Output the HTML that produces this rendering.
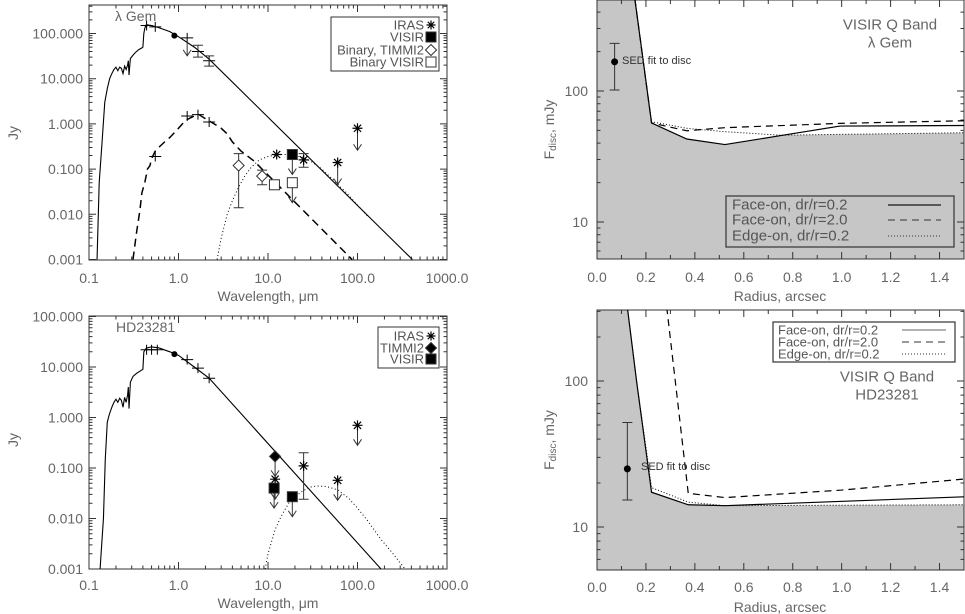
<!DOCTYPE html>
<html><head><meta charset="utf-8">
<style>
html,body{margin:0;padding:0;background:#fff;}
svg{display:block;font-family:"Liberation Sans",sans-serif;}
.t{fill:#666;font-size:14px;}
.ts{fill:#555;font-size:13px;}
</style></head>
<body>
<svg id="fig" width="965" height="614" viewBox="0 0 965 614" xmlns="http://www.w3.org/2000/svg">
<defs>
<clipPath id="cTL"><rect x="89" y="5" width="358" height="255"/></clipPath>
<clipPath id="cBL"><rect x="89" y="316" width="358" height="253"/></clipPath>
<clipPath id="cTR"><rect x="597" y="0" width="367" height="259"/></clipPath>
<clipPath id="cBR"><rect x="597" y="310" width="367" height="260"/></clipPath>
</defs>
</svg>
<script>
// ---------- data: lambda Gem SED ----------
const gemStarWl=[0.123,0.13,0.14,0.15,0.16,0.17,0.18,0.19,0.2,0.21,0.22,0.23,0.24,0.25,0.26,0.27,0.275,0.28,0.29,0.31,0.33,0.36,0.39,0.4,0.41,0.42,0.43,0.44,0.45,0.5,0.6,0.8,1.0,1.5,2.2,410];
const gemStarF=[0.001,0.05,0.4,3,6,10,13,16,18,15,18,17,13,19,16,20,25,12,28,33,38,44,48,50,100,130,150,140,155,150,135,110,85,50,27,0.001];
const gemBinWl=[0.31,0.34,0.37,0.39,0.42,0.45,0.48,0.5,0.55,0.6,0.7,0.8,1.0,1.2,1.5,1.7,2.0,2.5,3.0,3.5,4.0,5.0,7.0,87];
const gemBinF=[0.001,0.004,0.012,0.03,0.05,0.1,0.12,0.17,0.25,0.3,0.4,0.5,0.8,1.2,1.5,1.6,1.3,1.0,0.8,0.6,0.4,0.25,0.15,0.001];
const gemDiskWl=[2.7,3.0,3.5,4.0,4.7,5.5,6.5,8,10,13,16,20,25,30,40,55,75,100,130];
const gemDiskF=[0.001,0.003,0.01,0.02,0.04,0.07,0.11,0.16,0.19,0.21,0.21,0.2,0.18,0.15,0.1,0.055,0.03,0.016,0.009];
const gemIrasWl=[12.5,25,60,100];
const gemIrasF=[0.21,0.16,0.14,0.8];
const gemIrasLo=[0,0.11,0,0];
const gemIrasHi=[0,0.22,0,0];
const gemIrasUL=[0,0,1,1];
const gemVisirWl=[18.7];
const gemVisirF=[0.21];
const gemBinTimWl=[4.7,8.6];
const gemBinTimF=[0.12,0.07];
const gemBinTimLo=[0.014,0.045];
const gemBinTimHi=[0.22,0.095];
const gemBinVisWl=[11.8,18.7];
const gemBinVisF=[0.045,0.05];
const gemBinVisLo=[0.038,0];
const gemBinVisHi=[0.052,0];
const gemBinVisUL=[0,1];
const gemPhotWl=[0.44,0.55,1.25,1.65,2.2];
const gemPhotF=[150,140,80,40,25];
const gemPhotLo=[0,0,0,30,19];
const gemPhotHi=[0,0,0,55,32];
const gemPhotUL=[0,0,1,0,0];
const gemBinPhotWl=[0.55,1.25,1.65,2.2];
const gemBinPhotF=[0.19,1.5,1.6,1.1];
// ---------- data: HD23281 SED ----------
const hdStarWl=[0.133,0.145,0.152,0.16,0.165,0.17,0.18,0.19,0.2,0.21,0.22,0.23,0.24,0.25,0.26,0.27,0.275,0.28,0.29,0.31,0.34,0.38,0.4,0.41,0.43,0.45,0.5,0.6,0.8,1.0,1.5,2.2,183];
const hdStarF=[0.001,0.01,0.15,0.8,1.0,1.2,1.6,2.0,2.3,2.0,2.4,2.2,1.6,2.5,2.0,2.8,4.0,1.5,5,6.5,7.5,8.5,9,20,23,24,25,24,20,17,10,6,0.001];
const hdDiskWl=[9.3,10,12,14,17,20,25,30,35,45,60,80,100,130,180,250,340];
const hdDiskF=[0.001,0.002,0.006,0.011,0.02,0.027,0.036,0.042,0.044,0.043,0.037,0.025,0.016,0.009,0.004,0.002,0.001];
const hdIrasWl=[12,25,60,100];
const hdIrasF=[0.06,0.11,0.057,0.7];
const hdIrasLo=[0,0.024,0,0];
const hdIrasHi=[0,0.2,0,0];
const hdIrasUL=[1,0,1,1];
const hdTimWl=[12];
const hdTimF=[0.17];
const hdVisirWl=[11.7,18.7];
const hdVisirF=[0.04,0.027];
const hdPhotWl=[0.44,0.5,0.58,1.25,1.65,2.2];
const hdPhotF=[22,22,22,14,9.5,6];
// ---------- data: radial profiles ----------
const gemSolidR=[0.155,0.223,0.367,0.523,0.748,0.993,1.5];
const gemSolidF=[500,57,43,39,45.6,54,54.5];
const gemDashR=[0.155,0.223,0.367,0.523,0.993,1.5];
const gemDashF=[500,57,49.7,52.5,56.6,59.3];
const gemDotR=[0.155,0.223,0.367,0.523,0.748,1.5];
const gemDotF=[500,58.3,51.9,48.9,46,48];
const gemSedR=[0.072], gemSedF=[167], gemSedLo=[101.8], gemSedHi=[231];
const hdSolidR=[0.124,0.162,0.223,0.373,0.523,1.5];
const hdSolidF=[320,99,17.3,14.2,14.0,16.1];
const hdDashR=[0.285,0.373,0.523,1.0,1.5];
const hdDashF=[320,17.0,15.9,17.9,21.3];
const hdDotR=[0.124,0.162,0.223,0.373,0.523,1.5];
const hdDotF=[320,99,18.6,14.8,14.0,14.2];
const hdSedR=[0.124], hdSedF=[25], hdSedLo=[15.3], hdSedHi=[52];
// ---------- tick labels ----------
const sedXTicks=[0.1,1,10,100,1000];
const sedXLabels=["0.1","1.0","10.0","100.0","1000.0"];
const sedYTicks=[0.001,0.01,0.1,1,10,100];
const sedYLabels=["0.001","0.010","0.100","1.000","10.000","100.000"];
const radXTicks=[0,0.2,0.4,0.6,0.8,1.0,1.2,1.4];
const radXLabels=["0.0","0.2","0.4","0.6","0.8","1.0","1.2","1.4"];
const radYTicks=[10,100];
const radYLabels=["10","100"];

const NS='http://www.w3.org/2000/svg';
const svg=document.getElementById('fig');
function mk(tag,attrs,name,parent){
  const el=document.createElementNS(NS,tag);
  for(const k in attrs) el.setAttribute(k,attrs[k]);
  
  
  (parent||svg).appendChild(el);
  return el;
}
function logS(d0,p0,d1,p1){const a=Math.log10(d0),b=Math.log10(d1);return v=>p0+(Math.log10(v)-a)/(b-a)*(p1-p0);}
function linS(d0,p0,d1,p1){return v=>p0+(v-d0)/(d1-d0)*(p1-p0);}
function txt(x,y,s,cls,anchor,name,parent){const t=mk('text',{x:x,y:y,'class':cls,'text-anchor':anchor||'middle','dominant-baseline':'central'},name,parent);t.textContent=s;return t;}

function panel(P){
  const g=mk('g',{},P.name);
  mk('rect',{x:P.x0,y:P.y0,width:P.x1-P.x0,height:P.y1-P.y0,fill:'none',stroke:'#333','stroke-width':1},P.name+'-frame',g);
  // x ticks
  let d='';
  if(P.xlog){
    for(let e=-1;e<3;e++)for(let m=1;m<10;m++){const v=m*Math.pow(10,e);const x=P.xs(v);const L=m==1?7:3.5;d+=`M${x},${P.y1}v${-L}M${x},${P.y0}v${L}`;}
    d+=`M${P.x1},${P.y1}v-7M${P.x1},${P.y0}v7`;
  }else{
    for(let i=0;i<=15;i++){const x=P.xs(i/10);const L=i%2==0?7:4;d+=`M${x},${P.y1}v${-L}M${x},${P.y0}v${L}`;}
  }
  for(let e=P.ye0;e<=P.ye1;e++)for(let m=1;m<10;m++){const v=m*Math.pow(10,e);const y=P.ys(v);if(y<P.y0-0.5||y>P.y1+0.5)continue;const L=m==1?7:3.5;d+=`M${P.x0},${y}h${L}M${P.x1},${y}h${-L}`;}
  mk('path',{d:d,stroke:'#333','stroke-width':1,fill:'none'},P.name+'-ticks',g);
  P.xt.forEach((v,i)=>txt(P.xs(v),P.xly,P.xl[i],'t','middle','x-tick-label',g));
  P.yt.forEach((v,i)=>txt(P.ylx,P.ys(v),P.yl[i],'t','end','y-tick-label',g));
  return g;
}
function line(P,xs,ys,style,name,g){
  const pts=xs.map((x,i)=>P.xs(x).toFixed(2)+','+P.ys(ys[i]).toFixed(2)).join(' ');
  const a={points:pts,fill:'none',stroke:'#000','stroke-width':style.w||1,'clip-path':'url(#'+P.clip+')'};
  if(style.dash)a['stroke-dasharray']=style.dash;
  return mk('polyline',a,name,g);
}
function errbar(P,x,lo,hi,g,cap){
  const X=P.xs(x),a=P.ys(lo),b=P.ys(hi);cap=cap||5;
  mk('path',{d:`M${X},${a}V${b}M${X-cap},${a}h${2*cap}M${X-cap},${b}h${2*cap}`,stroke:'#333',fill:'none'},'error-bar',g);
}
function arrow(P,x,f,g,len){
  const X=P.xs(x),Y=P.ys(f),L=len||22;
  mk('path',{d:`M${X},${Y}v${L}M${X-4},${Y+L-6}L${X},${Y+L}L${X+4},${Y+L-6}`,stroke:'#333',fill:'none'},'upper-limit-arrow',g);
}
function aster(X,Y,g,s){s=s||5;const c=s*0.72;
  mk('path',{d:`M${X-s},${Y}h${2*s}M${X},${Y-s}v${2*s}M${X-c},${Y-c}l${2*c},${2*c}M${X-c},${Y+c}l${2*c},${-2*c}`,stroke:'#000',fill:'none','stroke-width':1.2},'iras-point',g);}
function sq(X,Y,g,filled){mk('rect',{x:X-5,y:Y-5,width:10,height:10,fill:filled?'#000':'#fff',stroke:'#333'},filled?'visir-point':'binary-visir-point',g);}
function dia(X,Y,g,filled){mk('path',{d:`M${X},${Y-5.5}L${X+5.5},${Y}L${X},${Y+5.5}L${X-5.5},${Y}Z`,fill:filled?'#000':'#fff',stroke:'#333'},filled?'timmi2-point':'binary-timmi2-point',g);}
function cross(P,x,f,g){const X=P.xs(x),Y=P.ys(f);mk('path',{d:`M${X-6},${Y}h12M${X},${Y-5}v10`,stroke:'#000',fill:'none'},'photometry-point',g);}

// ===== Top-left: lambda Gem SED =====
const TL={name:'sed-lambda-gem',x0:89,x1:447,y0:5,y1:260,xlog:true,xs:logS(0.1,89,1000,447),ys:logS(0.001,259.5,100,33.5),ye0:-3,ye1:2,xt:sedXTicks,xl:sedXLabels,yt:sedYTicks,yl:sedYLabels,xly:278,ylx:83,clip:'cTL'};
const gTL=panel(TL);
line(TL,gemStarWl,gemStarF,{w:1.1},'primary-photosphere-line',gTL);
line(TL,gemBinWl,gemBinF,{w:1.5,dash:'8,5'},'binary-photosphere-line',gTL);
line(TL,gemDiskWl,gemDiskF,{w:1,dash:'1,2.5'},'disc-model-line',gTL);
gemPhotWl.forEach((w,i)=>{cross(TL,w,gemPhotF[i],gTL);if(gemPhotLo[i])errbar(TL,w,gemPhotLo[i],gemPhotHi[i],gTL);if(gemPhotUL[i])arrow(TL,w,gemPhotF[i],gTL,18);});
mk('circle',{cx:TL.xs(0.9),cy:TL.ys(90),r:3,fill:'#000'},'photometry-dot',gTL);
gemBinPhotWl.forEach((w,i)=>cross(TL,w,gemBinPhotF[i],gTL));
gemBinTimWl.forEach((w,i)=>{errbar(TL,w,gemBinTimLo[i],gemBinTimHi[i],gTL);dia(TL.xs(w),TL.ys(gemBinTimF[i]),gTL,false);});
gemBinVisWl.forEach((w,i)=>{if(gemBinVisLo[i])errbar(TL,w,gemBinVisLo[i],gemBinVisHi[i],gTL);if(gemBinVisUL[i])arrow(TL,w,gemBinVisF[i],gTL,20);sq(TL.xs(w),TL.ys(gemBinVisF[i]),gTL,false);});
gemIrasWl.forEach((w,i)=>{if(gemIrasLo[i])errbar(TL,w,gemIrasLo[i],gemIrasHi[i],gTL);if(gemIrasUL[i])arrow(TL,w,gemIrasF[i],gTL,22);aster(TL.xs(w),TL.ys(gemIrasF[i]),gTL);});
gemVisirWl.forEach((w,i)=>{arrow(TL,w,gemVisirF[i],gTL,20);sq(TL.xs(w),TL.ys(gemVisirF[i]),gTL,true);});
txt(115,16,'λ Gem','t','start','panel-title',gTL);
const lgTL=mk('g',{},'legend',gTL);
mk('rect',{x:331,y:17,width:108,height:54,fill:'#fff',stroke:'#333'},'legend-box',lgTL);
txt(424,25,'IRAS','ts','end','legend-entry-iras',lgTL);aster(431,25,lgTL,4.5);
txt(424,37,'VISIR','ts','end','legend-entry-visir',lgTL);sq(431,37,lgTL,true);
txt(424,50,'Binary, TIMMI2','ts','end','legend-entry-binary-timmi2',lgTL);dia(431,50,lgTL,false);
txt(424,62,'Binary VISIR','ts','end','legend-entry-binary-visir',lgTL);sq(431,62,lgTL,false);
txt(268,296,'Wavelength, μm','t','middle','x-axis-title',gTL);
mk('text',{x:13,y:133,'class':'t','text-anchor':'middle','dominant-baseline':'central',transform:'rotate(-90 13 133)'},'y-axis-title',gTL).textContent='Jy';

// ===== Bottom-left: HD23281 SED =====
const BL={name:'sed-hd23281',x0:89,x1:447,y0:316,y1:569,xlog:true,xs:logS(0.1,89,1000,447),ys:logS(0.001,569,100,316.5),ye0:-3,ye1:2,xt:sedXTicks,xl:sedXLabels,yt:sedYTicks,yl:sedYLabels,xly:585,ylx:83,clip:'cBL'};
const gBL=panel(BL);
line(BL,hdStarWl,hdStarF,{w:1.1},'photosphere-line',gBL);
line(BL,hdDiskWl,hdDiskF,{w:1,dash:'1,2.5'},'disc-model-line',gBL);
hdPhotWl.forEach((w,i)=>cross(BL,w,hdPhotF[i],gBL));
mk('circle',{cx:BL.xs(0.9),cy:BL.ys(18),r:3,fill:'#000'},'photometry-dot',gBL);
hdIrasWl.forEach((w,i)=>{if(hdIrasLo[i])errbar(BL,w,hdIrasLo[i],hdIrasHi[i],gBL);if(hdIrasUL[i])arrow(BL,w,hdIrasF[i],gBL,20);aster(BL.xs(w),BL.ys(hdIrasF[i]),gBL);});
hdTimWl.forEach((w,i)=>{arrow(BL,w,hdTimF[i],gBL,20);dia(BL.xs(w),BL.ys(hdTimF[i]),gBL,true);});
hdVisirWl.forEach((w,i)=>{arrow(BL,w,hdVisirF[i],gBL,20);sq(BL.xs(w),BL.ys(hdVisirF[i]),gBL,true);});
txt(116,327,'HD23281','t','start','panel-title',gBL);
const lgBL=mk('g',{},'legend',gBL);
mk('rect',{x:378,y:327,width:61,height:41,fill:'#fff',stroke:'#333'},'legend-box',lgBL);
txt(424,336,'IRAS','ts','end','legend-entry-iras',lgBL);aster(431,336,lgBL,4.5);
txt(424,348,'TIMMI2','ts','end','legend-entry-timmi2',lgBL);dia(431,348,lgBL,true);
txt(424,359,'VISIR','ts','end','legend-entry-visir',lgBL);sq(431,359,lgBL,true);
txt(268,603,'Wavelength, μm','t','middle','x-axis-title',gBL);
mk('text',{x:13,y:440,'class':'t','text-anchor':'middle','dominant-baseline':'central',transform:'rotate(-90 13 440)'},'y-axis-title',gBL).textContent='Jy';

// ===== radial profile panels =====
function interpLog(R,F,r){if(r<R[0]||r>R[R.length-1])return Infinity;for(let i=1;i<R.length;i++){if(r<=R[i]){const t=(r-R[i-1])/(R[i]-R[i-1]);return Math.pow(10,Math.log10(F[i-1])+t*(Math.log10(F[i])-Math.log10(F[i-1])));}}return F[F.length-1];}
function radPanel(P,curves,sed,title1,title2,tx,ty,sedLabel,leg){
  const g=mk('g',{},P.name);
  // gray fill = below lower envelope
  let pts=[];const top=P.y0,bot=P.y1;
  for(let i=0;i<=600;i++){const r=1.5*i/600;let m=Infinity;curves.forEach(c=>{m=Math.min(m,interpLog(c[0],c[1],r));});let y=isFinite(m)?P.ys(m):top;y=Math.max(top,Math.min(bot,y));pts.push(P.xs(r).toFixed(2)+','+y.toFixed(2));}
  pts.push(P.x1+','+bot,P.x0+','+bot);
  mk('polygon',{points:pts.join(' '),fill:'#c6c6c6',stroke:'none'},'excluded-region',g);
  const gp=panel(P);g.appendChild(gp);
  const styles=[{w:1.2},{w:1.2,dash:'7,5'},{w:1,dash:'1,2'}];
  const names=['face-on-dr0.2-line','face-on-dr2.0-line','edge-on-dr0.2-line'];
  curves.forEach((c,i)=>line(P,c[0],c[1],styles[i],names[i],g));
  errbar(P,sed[0][0],sed[2][0],sed[3][0],g,5);
  mk('circle',{cx:P.xs(sed[0][0]),cy:P.ys(sed[1][0]),r:3.5,fill:'#000'},'sed-fit-point',g);
  txt(sedLabel[0],sedLabel[1],'SED fit to disc','ts','start','sed-fit-label',g).setAttribute('style','font-size:11px;fill:#333');
  txt(tx,ty,title1,'t','middle','panel-title',g).setAttribute('style','font-size:15px');
  txt(tx,ty+18,title2,'t','middle','panel-subtitle',g).setAttribute('style','font-size:15px');
  const lg=mk('g',{},'legend',g);
  mk('rect',{x:leg.x,y:leg.y,width:leg.w,height:leg.h,fill:leg.fill,stroke:'#333','stroke-width':1.2},'legend-box',lg);
  const labs=['Face-on, dr/r=0.2','Face-on, dr/r=2.0','Edge-on, dr/r=0.2'];
  labs.forEach((s,i)=>{const y=leg.rows[i];txt(leg.tx,y,s,'t','start','legend-entry',lg).setAttribute('style','font-size:'+leg.fs+'px;fill:#555');
    const a={d:`M${leg.l0},${y}H${leg.l1}`,stroke:i==0&&leg.fill=='#fff'?'#999':'#333',fill:'none','stroke-width':i==0?1.5:1};if(styles[i].dash)a['stroke-dasharray']=i==1?'7,5':'1,2';mk('path',a,'legend-line-sample',lg);});
  txt(780,P.y1+37,'Radius, arcsec','t','middle','x-axis-title',g);
  const cy=(P.y0+P.y1)/2;
  const yt=mk('text',{x:549,y:cy,'class':'t','text-anchor':'middle','dominant-baseline':'central',transform:`rotate(-90 549 ${cy})`},'y-axis-title',g);
  yt.innerHTML='F<tspan font-size="10" dy="4">disc</tspan><tspan dy="-4">, mJy</tspan>';
}
const TR={name:'profile-lambda-gem',x0:597,x1:964,y0:0,y1:259,xlog:false,xs:linS(0,597,1.5,964),ys:logS(10,222,100,91),ye0:0,ye1:2,xt:radXTicks,xl:radXLabels,yt:radYTicks,yl:radYLabels,xly:277,ylx:588,clip:'cTR'};
radPanel(TR,[[gemSolidR,gemSolidF],[gemDashR,gemDashF],[gemDotR,gemDotF]],[gemSedR,gemSedF,gemSedLo,gemSedHi],'VISIR Q Band','λ Gem',890,25,[622,61],
 {x:726,y:196,w:228,h:51,fill:'none',rows:[205,220,236],tx:732,fs:15,l0:888,l1:941});
const BR={name:'profile-hd23281',x0:597,x1:964,y0:310,y1:570,xlog:false,xs:linS(0,597,1.5,964),ys:logS(10,527,100,381),ye0:0,ye1:2,xt:radXTicks,xl:radXLabels,yt:radYTicks,yl:radYLabels,xly:587,ylx:588,clip:'cBR'};
radPanel(BR,[[hdSolidR,hdSolidF],[hdDashR,hdDashF],[hdDotR,hdDotF]],[hdSedR,hdSedF,hdSedLo,hdSedHi],'VISIR Q Band','HD23281',887,377,[641,467],
 {x:773,y:322,w:182,h:40,fill:'#fff',rows:[330,342,354],tx:778,fs:13,l0:902,l1:946});
</script>
</body></html>
